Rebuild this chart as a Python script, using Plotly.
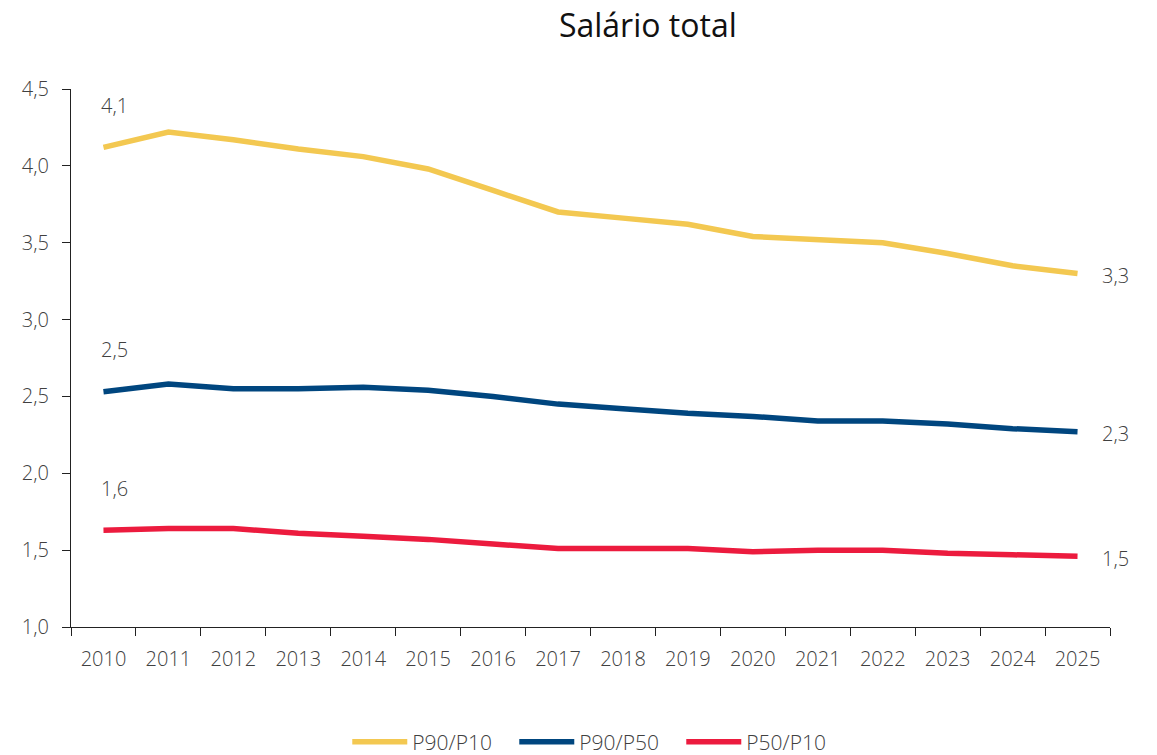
import plotly.graph_objects as go

years = [str(y) for y in range(2010, 2026)]
p90_p10 = [4.12, 4.22, 4.17, 4.11, 4.06, 3.98, 3.84, 3.70, 3.66, 3.62, 3.54, 3.52, 3.50, 3.43, 3.35, 3.30]
p90_p50 = [2.53, 2.58, 2.55, 2.55, 2.56, 2.54, 2.50, 2.45, 2.42, 2.39, 2.37, 2.34, 2.34, 2.32, 2.29, 2.27]
p50_p10 = [1.63, 1.64, 1.64, 1.61, 1.59, 1.57, 1.54, 1.51, 1.51, 1.51, 1.49, 1.50, 1.50, 1.48, 1.47, 1.46]

series = [
    ("P90/P10", p90_p10, "#F3C851"),
    ("P90/P50", p90_p50, "#00467F"),
    ("P50/P10", p50_p10, "#EC1B3E"),
]

FONT = "Open Sans"
TXT = "#404040"
FS = 20

fig = go.Figure()
last = len(years) - 1
for name, vals, col in series:
    fig.add_trace(go.Scatter(x=years, y=vals, name=name, mode="lines",
                             line=dict(color=col, width=5.5)))
    fig.add_annotation(x=0, y=vals[0], text=f"{vals[0]:.1f}".replace(".", ","),
                       showarrow=False, xshift=11, yshift=42,
                       font=dict(family=FONT, size=FS, color=TXT, weight=300))
    fig.add_annotation(x=last, y=vals[-1], text=f"{vals[-1]:.1f}".replace(".", ","),
                       showarrow=False, xshift=38, yshift=-2,
                       font=dict(family=FONT, size=FS, color=TXT, weight=300))

fig.update_layout(
    width=1157, height=755,
    margin=dict(l=63, r=55, t=81, b=136, autoexpand=False),
    paper_bgcolor="white", plot_bgcolor="white",
    font=dict(family=FONT, size=FS, color=TXT, weight=300),
    separators=",.",
    title=dict(text="Salário total", x=0.553, xanchor="center", y=0.976, yanchor="middle",
               font=dict(family=FONT, size=32, color="#111111", weight=400)),
    showlegend=True,
    legend=dict(orientation="h", x=0.507, xanchor="center", y=-0.214, yanchor="middle",
                font=dict(family=FONT, size=21, color=TXT, weight=300),
                itemwidth=55, tracegroupgap=0, entrywidth=97),
    xaxis=dict(type="category", range=[-0.5, last + 0.5], showgrid=False, showline=True,
               linecolor="#222222", linewidth=1,
               ticks="outside", ticklen=8, tickcolor="#222222", tickson="boundaries",
               tickangle=0, ticklabelstandoff=14,
               tickfont=dict(family=FONT, size=FS, color=TXT, weight=300), zeroline=False),
    yaxis=dict(range=[1.0, 4.5], dtick=0.5, tickformat=".1f", showgrid=False, showline=True,
               linecolor="#222222", linewidth=1, ticks="outside", ticklen=8, tickcolor="#222222",
               ticklabelstandoff=9,
               tickfont=dict(family=FONT, size=FS, color=TXT, weight=300), zeroline=False),
)

fig.write_html("out.html")
